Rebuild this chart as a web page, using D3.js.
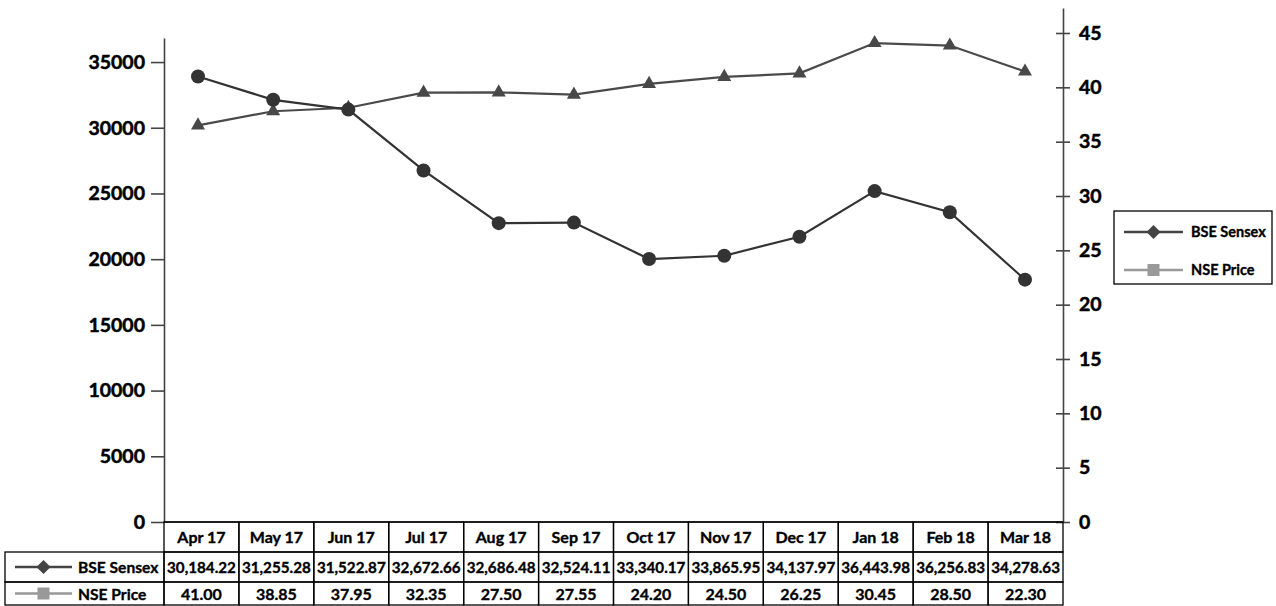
<!DOCTYPE html>
<meta charset="utf-8">
<svg width="1276" height="606"></svg>

<style>
body { margin: 0; background: #fff; }
svg { display: block; font-family: Lato, 'Open Sans', sans-serif; font-weight: bold; }
.axis path, .axis line { stroke: #444; stroke-width: 1.6; }
.axis text { font-size: 19.5px; fill: #000; font-family: Lato, sans-serif; font-weight: bold; stroke: #000; stroke-width: 0.5; }
.cell { fill: none; stroke: #000; stroke-width: 1.3; }
.tbl { font-size: 16px; fill: #000; stroke: #000; stroke-width: 0.35; }
.tbl.num { font-size: 15.2px; }
.tbl.head { font-size: 15.6px; }
.leg { font-size: 14.5px; fill: #000; stroke: #000; stroke-width: 0.35; }
</style>

<script src="https://d3js.org/d3.v7.min.js"></script>
<script>

var months = ["Apr 17","May 17","Jun 17","Jul 17","Aug 17","Sep 17","Oct 17","Nov 17","Dec 17","Jan 18","Feb 18","Mar 18"];
var bse = [30184.22,31255.28,31522.87,32672.66,32686.48,32524.11,33340.17,33865.95,34137.97,36443.98,36256.83,34278.63];
var nse = [41.00,38.85,37.95,32.35,27.50,27.55,24.20,24.50,26.25,30.45,28.50,22.30];
var leftTicks = [0,5000,10000,15000,20000,25000,30000,35000];
var rightTicks = [0,5,10,15,20,25,30,35,40,45];

var svg = d3.select("svg");

var x0 = 164, x1 = 1063, yBase = 522;

var yL = d3.scaleLinear().domain([0, 36830]).range([yBase, 38]);
var yR = d3.scaleLinear().domain([0, 47.3]).range([yBase, 8]);

// columns of the data table
var band = d3.scaleBand().domain(months).range([x0, x1]);
// marker positions sit a little left of the column centres
var xp = d3.scalePoint().domain(months).range([198, 1025]);

// left axis
svg.append("g")
    .attr("class", "axis")
    .attr("transform", "translate(" + x0 + ",0)")
    .call(d3.axisLeft(yL).tickValues(leftTicks).tickSize(13).tickSizeOuter(0).tickPadding(6).tickFormat(d3.format("d")));

// right axis
var ra = svg.append("g")
    .attr("class", "axis")
    .attr("transform", "translate(" + x1 + ",0)")
    .call(d3.axisRight(yR).tickValues(rightTicks).tickSize(7).tickSizeOuter(0).tickPadding(9));
ra.selectAll(".tick line").attr("x1", -7).attr("x2", 7);

// baseline
svg.append("line")
    .attr("x1", x0).attr("x2", x1)
    .attr("y1", yBase).attr("y2", yBase)
    .attr("stroke", "#222").attr("stroke-width", 1.6);

// series drawn in the plot
var lineBse = d3.line()
    .x(function(d, i) { return xp(months[i]); })
    .y(function(d) { return yL(d); });
var lineNse = d3.line()
    .x(function(d, i) { return xp(months[i]); })
    .y(function(d) { return yR(d); });

svg.append("path")
    .datum(bse)
    .attr("fill", "none")
    .attr("stroke", "#4a4a4a")
    .attr("stroke-width", 2.2)
    .attr("d", lineBse);

svg.append("path")
    .datum(nse)
    .attr("fill", "none")
    .attr("stroke", "#333")
    .attr("stroke-width", 2.2)
    .attr("d", lineNse);

svg.selectAll(".tri")
    .data(bse)
  .enter().append("path")
    .attr("class", "tri")
    .attr("fill", "#484848")
    .attr("transform", function(d, i) { return "translate(" + xp(months[i]) + "," + yL(d) + ")"; })
    .attr("d", d3.symbol().type(d3.symbolTriangle).size(85));

svg.selectAll(".dot")
    .data(nse)
  .enter().append("circle")
    .attr("class", "dot")
    .attr("fill", "#333")
    .attr("cx", function(d, i) { return xp(months[i]); })
    .attr("cy", function(d) { return yR(d); })
    .attr("r", 7);

// data table
var rowTop = [yBase, 552, 582], rowBot = [552, 582, 605];
var tbl = svg.append("g");

months.forEach(function(m, i) {
  var bx = band(m), bw = band.bandwidth();
  for (var r = 0; r < 3; r++) {
    tbl.append("rect")
        .attr("class", "cell")
        .attr("x", bx).attr("y", rowTop[r])
        .attr("width", bw).attr("height", rowBot[r] - rowTop[r]);
  }
  var cx = bx + bw / 2;
  tbl.append("text").attr("class", "tbl").attr("x", cx).attr("y", 543)
      .attr("text-anchor", "middle").text(m);
  tbl.append("text").attr("class", "tbl num").attr("x", cx).attr("y", 573)
      .attr("text-anchor", "middle").text(d3.format(",.2f")(bse[i]));
  tbl.append("text").attr("class", "tbl").attr("x", cx).attr("y", 600)
      .attr("text-anchor", "middle").text(d3.format(".2f")(nse[i]));
});

// row headers with keys
[{y0: 552, y1: 582, name: "BSE Sensex", col: "#444", mark: "diamond"},
 {y0: 582, y1: 605, name: "NSE Price", col: "#999", mark: "square"}].forEach(function(h) {
  tbl.append("rect").attr("class", "cell")
      .attr("x", 5).attr("y", h.y0).attr("width", x0 - 5).attr("height", h.y1 - h.y0);
  drawKey(tbl, 15, 72, (h.y0 + h.y1) / 2, h.col, h.mark);
  tbl.append("text").attr("class", "tbl head").attr("x", 78).attr("y", (h.y0 + h.y1) / 2 + 6).text(h.name);
});

// legend
var leg = svg.append("g");
leg.append("rect").attr("x", 1114).attr("y", 211).attr("width", 158).attr("height", 73)
    .attr("fill", "#fff").attr("stroke", "#000").attr("stroke-width", 1.3);
drawKey(leg, 1124, 1183, 232, "#444", "diamond");
leg.append("text").attr("class", "leg").attr("x", 1191).attr("y", 237).text("BSE Sensex");
drawKey(leg, 1124, 1183, 270, "#999", "square");
leg.append("text").attr("class", "leg").attr("x", 1191).attr("y", 275).text("NSE Price");

function drawKey(g, xa, xb, y, col, mark) {
  g.append("line").attr("x1", xa).attr("x2", xb).attr("y1", y).attr("y2", y)
      .attr("stroke", col).attr("stroke-width", 2.5);
  var xm = (xa + xb) / 2;
  if (mark === "diamond") {
    g.append("path").attr("fill", col)
        .attr("d", "M" + xm + "," + (y - 7) + "L" + (xm + 7) + "," + y + "L" + xm + "," + (y + 7) + "L" + (xm - 7) + "," + y + "Z");
  } else {
    g.append("rect").attr("fill", col).attr("x", xm - 6).attr("y", y - 6).attr("width", 12).attr("height", 12);
  }
}

</script>
